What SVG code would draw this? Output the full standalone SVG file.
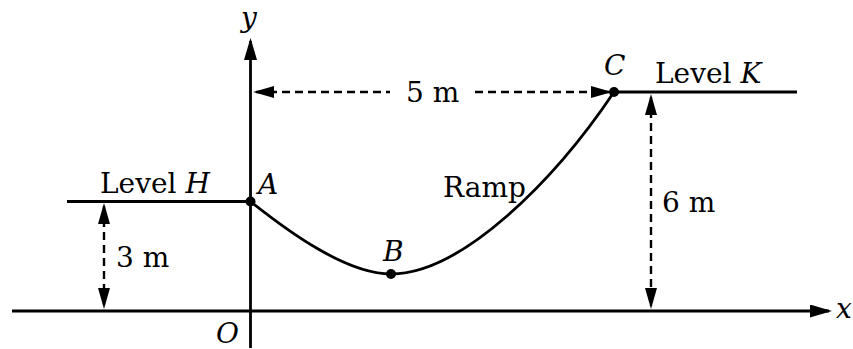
<svg xmlns="http://www.w3.org/2000/svg" width="853" height="349" viewBox="0 0 853 349">
<style>
.ln{stroke:#000;stroke-width:2.8;fill:none}
.dash{stroke:#000;stroke-width:2.4;fill:none;stroke-dasharray:8 5}
.t{font-family:"DejaVu Serif","Liberation Serif",serif;font-size:28px;fill:#000}
.i{font-style:italic}
.dot{fill:#000}
</style>
<defs>
<marker id="ah" markerUnits="userSpaceOnUse" viewBox="0 0 21 12" refX="18" refY="6" markerWidth="21" markerHeight="12" orient="auto-start-reverse">
<path d="M0,0 L21,6 L0,12 z" fill="#000"/>
</marker>
<marker id="axh" markerUnits="userSpaceOnUse" viewBox="0 0 22 13" refX="19" refY="6.5" markerWidth="22" markerHeight="13" orient="auto">
<path d="M0,0 L22,6.5 L0,13 z" fill="#000"/>
</marker>
</defs>
<g id="axes">
<line class="ln" x1="12" y1="311" x2="829" y2="311" marker-end="url(#axh)"/>
<line class="ln" x1="250.5" y1="348" x2="250.5" y2="41" marker-end="url(#axh)"/>
<text class="t i" x="249" y="27" text-anchor="middle">y</text>
<text class="t i" x="836" y="318">x</text>
<text class="t i" x="216" y="343">O</text>
</g>
<g id="levelH">
<line class="ln" x1="67" y1="201.5" x2="250.5" y2="201.5"/>
<text class="t" x="100" y="193">Level <tspan class="i">H</tspan></text>
</g>
<g id="levelK">
<line class="ln" x1="614" y1="92" x2="797" y2="92"/>
<text class="t" x="655" y="83">Level <tspan class="i">K</tspan></text>
</g>
<g id="ramp">
<path class="ln" d="M250.5,201.5 C285,229 345,274 391,274 C462,274 555,180 614,92"/>
<text class="t" x="443" y="197">Ramp</text>
</g>
<g id="A">
<circle class="dot" cx="250.5" cy="201.5" r="5"/>
<text class="t i" x="258" y="194">A</text>
</g>
<g id="B">
<circle class="dot" cx="391" cy="274" r="5"/>
<text class="t i" x="383" y="261">B</text>
</g>
<g id="C">
<circle class="dot" cx="614" cy="92" r="5"/>
<text class="t i" x="604" y="75">C</text>
</g>
<g id="connectors">
<line class="dash" x1="256" y1="92" x2="390" y2="92" marker-start="url(#ah)"/>
<line class="dash" x1="475" y1="92" x2="609" y2="92" marker-end="url(#ah)"/>
<line class="dash" x1="104" y1="206" x2="104" y2="306" marker-start="url(#ah)" marker-end="url(#ah)"/>
<line class="dash" x1="651" y1="97" x2="651" y2="306" marker-start="url(#ah)" marker-end="url(#ah)"/>
</g>
<g id="labels">
<text class="t" x="406" y="102">5 m</text>
<text class="t" x="116" y="267">3 m</text>
<text class="t" x="662" y="212">6 m</text>
</g>
</svg>
